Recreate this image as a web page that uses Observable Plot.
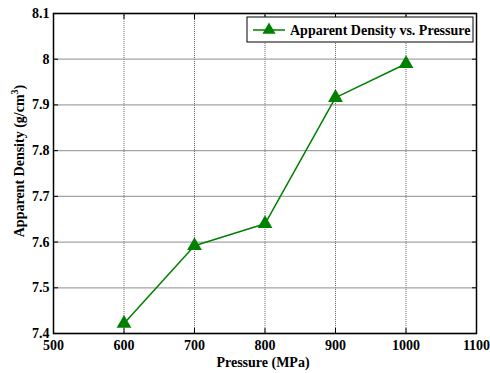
<!DOCTYPE html>
<html><head><meta charset="utf-8">
<script src="https://cdn.jsdelivr.net/npm/d3@7"></script>
<script src="https://cdn.jsdelivr.net/npm/@observablehq/plot@0.6"></script>
<style>body{margin:0;background:#fff}</style>
</head><body><div id="chart"></div>
<script>
const pressure = [600, 700, 800, 900, 1000];
const density = [7.422, 7.592, 7.640, 7.916, 7.990];
const xTicks = [500, 600, 700, 800, 900, 1000, 1100];
const yTicks = [7.4, 7.5, 7.6, 7.7, 7.8, 7.9, 8.0, 8.1];
const seriesName = "Apparent Density vs. Pressure";
const data = pressure.map((p, i) => ({p, d: density[i]}));
const font = "'Liberation Serif', 'Times New Roman', serif";
const green = "#008000";
const blank = () => "";

const plot = Plot.plot({
  width: 490, height: 373,
  marginLeft: 53, marginRight: 14, marginTop: 13, marginBottom: 40,
  style: {fontFamily: font, fontSize: "14px", fontWeight: "bold", color: "#000", background: "#fff"},
  x: {domain: [500, 1100], ticks: xTicks},
  y: {domain: [7.4, 8.1], ticks: yTicks},
  marks: [
    Plot.gridX(xTicks, {stroke: "#555", strokeOpacity: 0.9, strokeDasharray: "1,1"}),
    Plot.gridY(yTicks, {stroke: "#999", strokeOpacity: 0.9, strokeWidth: 1.3}),
    Plot.axisX(xTicks, {tickSize: -5, tickFormat: blank, label: null}),
    Plot.axisX(xTicks, {anchor: "top", tickSize: -5, tickFormat: blank, label: null}),
    Plot.axisY(yTicks, {tickSize: -5, tickFormat: blank, label: null}),
    Plot.axisY(yTicks, {anchor: "right", tickSize: -5, tickFormat: blank, label: null}),
    Plot.axisX(xTicks, {tickSize: 0, tickPadding: 7, label: null, tickFormat: d => String(d), fontWeight: "bold"}),
    Plot.axisY(yTicks, {tickSize: 0, tickPadding: 4, label: null, tickFormat: d => String(+d.toFixed(1)), fontWeight: "bold"}),
    Plot.frame({stroke: "#000", strokeWidth: 1.5}),
    Plot.line(data, {x: "p", y: "d", stroke: green, strokeWidth: 1.5}),
    Plot.dot(data, {x: "p", y: "d", symbol: "triangle", r: 5.5, fill: green, stroke: "none"})
  ]
});
document.getElementById("chart").appendChild(plot);

const svg = d3.select(plot);
// axis titles
svg.append("text").attr("x", 263).attr("y", 367).attr("text-anchor", "middle")
  .attr("font-family", font).attr("font-size", 14).attr("font-weight", "bold").text("Pressure (MPa)");
const yt = svg.append("text").attr("transform", "translate(24,161) rotate(-90)").attr("text-anchor", "middle")
  .attr("font-family", font).attr("font-size", 14).attr("font-weight", "bold");
yt.append("tspan").text("Apparent Density (g/cm");
yt.append("tspan").attr("font-size", 10).attr("dy", -6).text("3");
yt.append("tspan").attr("dy", 6).text(")");

// legend
const lg = svg.append("g");
lg.append("rect").attr("x", 247).attr("y", 17).attr("width", 226).attr("height", 25)
  .attr("fill", "#fff").attr("stroke", "#000").attr("stroke-width", 1);
lg.append("line").attr("x1", 253).attr("x2", 285).attr("y1", 30).attr("y2", 30)
  .attr("stroke", green).attr("stroke-width", 1.5);
lg.append("path").attr("transform", "translate(269,30)").attr("d", d3.symbol(d3.symbolTriangle, 75)())
  .attr("fill", green);
lg.append("text").attr("x", 290).attr("y", 35).attr("text-anchor", "start").attr("font-family", font).attr("font-size", 14)
  .attr("font-weight", "bold").text(seriesName);
</script></body></html>
